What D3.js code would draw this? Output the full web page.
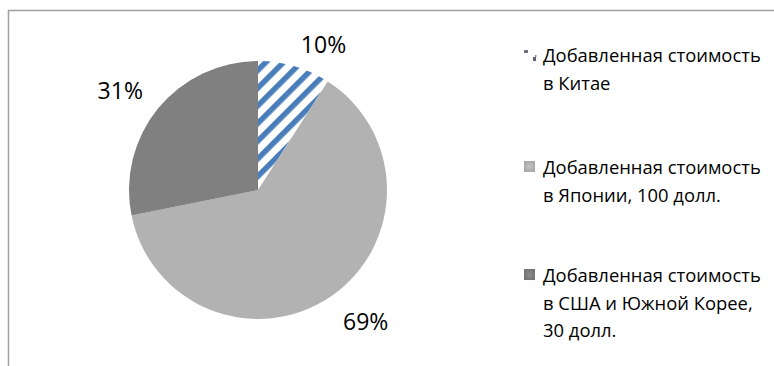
<!DOCTYPE html>
<html lang="ru">
<head>
<meta charset="utf-8">
<script src="https://cdn.jsdelivr.net/npm/d3@7/dist/d3.min.js"></script>
<style>
  html, body { margin: 0; padding: 0; background: #fff; }
  svg { display: block; }
  text { font-family: "Open Sans", "DejaVu Sans", sans-serif; fill: #000; }
</style>
</head>
<body>
<svg id="chart" width="774" height="366"></svg>
<script>
// Value added per country share (labels as printed on the slices)
const categories = [
  "Добавленная стоимость в Китае",
  "Добавленная стоимость в Японии, 100 долл.",
  "Добавленная стоимость в США и Южной Корее, 30 долл."
];
const shares = [10, 69, 31];
const shareLabels = ["10%", "69%", "31%"];
const legendLines = [
  ["Добавленная стоимость", "в Китае"],
  ["Добавленная стоимость", "в Японии, 100 долл."],
  ["Добавленная стоимость", "в США и Южной Корее,", "30 долл."]
];

const W = 774, H = 366;
const cx = 258, cy = 190, radius = 129;
const fills = ["url(#hatch)", "#b2b2b2", "#808080"];

const svg = d3.select("#chart");

// Hatched fill for the first slice
const defs = svg.append("defs");
const hatch = defs.append("pattern")
  .attr("id", "hatch")
  .attr("patternUnits", "userSpaceOnUse")
  .attr("width", 12.5).attr("height", 12.5)
  .attr("patternTransform", "rotate(45)");
hatch.append("rect").attr("width", 12.5).attr("height", 12.5).attr("fill", "#fff");
hatch.append("rect").attr("width", 5.5).attr("height", 12.5).attr("fill", "#4a7ebb");

const grad = defs.append("radialGradient").attr("id", "lg2");
grad.append("stop").attr("offset", "0%").attr("stop-color", "#c4c4c4");
grad.append("stop").attr("offset", "100%").attr("stop-color", "#a8a8a8");
const grad3 = defs.append("radialGradient").attr("id", "lg3");
grad3.append("stop").attr("offset", "0%").attr("stop-color", "#8c8c8c");
grad3.append("stop").attr("offset", "100%").attr("stop-color", "#767676");

// Frame (top and left edges of the chart area)
svg.append("path")
  .attr("d", `M8.5,${H} V10.5 H${W}`)
  .attr("fill", "none")
  .attr("stroke", "#a0a0a0")
  .attr("stroke-width", 1.5);

// Pie
const pie = d3.pie().sort(null).value(d => d);
const arcs = pie(shares);
const arc = d3.arc().innerRadius(0).outerRadius(radius);

const g = svg.append("g").attr("transform", `translate(${cx},${cy})`);
g.selectAll("path.slice")
  .data(arcs)
  .join("path")
  .attr("class", "slice")
  .attr("d", arc)
  .attr("fill", (d, i) => fills[i]);

// Percentage labels outside each slice
const labelArc = d3.arc().innerRadius(radius + 36).outerRadius(radius + 36);
const labelNudge = [[19, 13], [14.5, -4], [-10, 5.5]];
g.selectAll("text.pct")
  .data(arcs)
  .join("text")
  .attr("class", "pct")
  .attr("transform", (d, i) => {
    const [x, y] = labelArc.centroid(d);
    return `translate(${x + labelNudge[i][0]},${y + labelNudge[i][1]})`;
  })
  .attr("text-anchor", "middle")
  .attr("dy", "0.35em")
  .style("font-size", "23px")
  .text((d, i) => shareLabels[i]);

// Legend
const legendX = 524, textX = 543;
const itemTop = [62, 174, 282];
const lineH = 27.5;
const legend = svg.append("g");
legendLines.forEach((lines, i) => {
  const item = legend.append("g").attr("transform", `translate(0,${itemTop[i]})`);
  if (i === 0) {
    // tiny hatched swatch: only corner fragments show at this size
    item.append("rect").attr("x", legendX).attr("y", -12).attr("width", 4).attr("height", 3).attr("fill", "#6e6e7e");
    item.append("rect").attr("x", legendX + 9).attr("y", -5).attr("width", 3).attr("height", 4).attr("fill", "#5e5e6e");
    item.append("rect").attr("x", legendX + 11).attr("y", -7).attr("width", 1.5).attr("height", 2).attr("fill", "#8a8a9a");
  } else {
    item.append("rect")
      .attr("x", legendX).attr("y", -13)
      .attr("width", 11).attr("height", 11)
      .attr("fill", i === 1 ? "url(#lg2)" : "url(#lg3)");
  }
  item.append("text")
    .attr("x", textX)
    .style("font-size", "18.4px")
    .selectAll("tspan")
    .data(lines)
    .join("tspan")
    .attr("x", textX)
    .attr("y", (d, j) => j * lineH)
    .text(d => d);
});
</script>
</body>
</html>
